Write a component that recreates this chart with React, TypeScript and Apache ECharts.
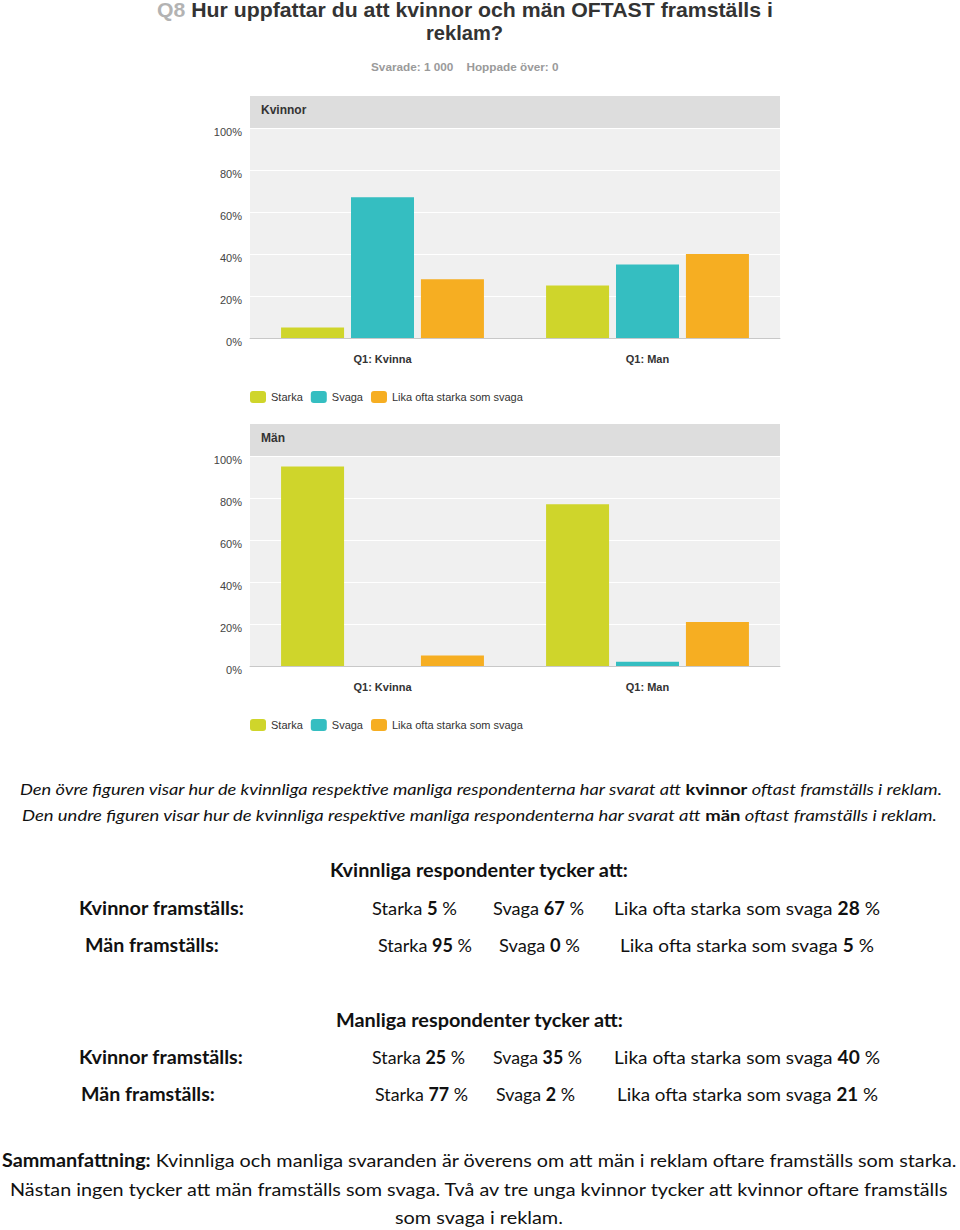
import React, { useEffect, useRef } from 'react';
import * as echarts from 'echarts';

// ---------- data ----------
const categories = ['Q1: Kvinna', 'Q1: Man'];
const seriesNames = ['Starka', 'Svaga', 'Lika ofta starka som svaga'];
const seriesColors = ['#cfd52b', '#35bec1', '#f6ae22'];
const yMin = 0;
const yMax = 100;
const yStep = 20;

// Top chart "Kvinnor" (how women are portrayed), per category [Kvinna, Man]
const kvinnorStarka = [5, 25];
const kvinnorSvaga = [67, 35];
const kvinnorLika = [28, 40];
// Bottom chart "Män" (how men are portrayed)
const manStarka = [95, 77];
const manSvaga = [0, 2];
const manLika = [5, 21];

const titleQ = 'Q8';
const titleLine1 = 'Hur uppfattar du att kvinnor och män OFTAST framställs i';
const titleLine2 = 'reklam?';
const subtitle = 'Svarade: 1 000    Hoppade över: 0';
const panelTitles = ['Kvinnor', 'Män'];

// ---------- fonts ----------
const ARIAL = '"Liberation Sans", Arial, sans-serif';
const BODY = 'Lato, "Open Sans", sans-serif';

type St = { fontSize: number; fontWeight: string; fontStyle: string; fontFamily: string; fill: string };
const st = (fontSize: number, fontWeight: string, fontStyle: string, fontFamily: string, fill: string): St => ({
  fontSize, fontWeight, fontStyle, fontFamily, fill,
});

// Measure with an SVG text node so widths match the SVG renderer.
let svgMeasure: SVGTextElement | null = null;
let svgRoot: SVGSVGElement | null = null;
let canvasCtx: CanvasRenderingContext2D | null = null;
function measure(text: string, s: St) {
  try {
    if (!svgMeasure) {
      const NS = 'http://www.w3.org/2000/svg';
      svgRoot = document.createElementNS(NS, 'svg') as SVGSVGElement;
      svgRoot.setAttribute('width', '2000');
      svgRoot.setAttribute('height', '50');
      svgRoot.style.position = 'absolute';
      svgRoot.style.left = '0px';
      svgRoot.style.top = '0px';
      svgRoot.style.opacity = '0';
      svgRoot.style.pointerEvents = 'none';
      svgMeasure = document.createElementNS(NS, 'text') as SVGTextElement;
      svgMeasure.setAttribute('x', '0');
      svgMeasure.setAttribute('y', '30');
      svgMeasure.style.whiteSpace = 'pre';
      svgMeasure.setAttributeNS('http://www.w3.org/XML/1998/namespace', 'xml:space', 'preserve');
      svgRoot.appendChild(svgMeasure);
      document.body.appendChild(svgRoot);
    }
    const el = svgMeasure!;
    el.style.fontFamily = s.fontFamily;
    el.style.fontSize = s.fontSize + 'px';
    el.style.fontWeight = s.fontWeight;
    el.style.fontStyle = s.fontStyle;
    el.textContent = text;
    const w = el.getComputedTextLength();
    if (w > 0) return w;
  } catch (e) {
    // fall through
  }
  if (!canvasCtx) canvasCtx = document.createElement('canvas').getContext('2d');
  canvasCtx!.font = `${s.fontStyle} ${s.fontWeight} ${s.fontSize}px ${s.fontFamily}`;
  return canvasCtx!.measureText(text).width;
}
function removeMeasurer() {
  if (svgRoot && svgRoot.parentNode) svgRoot.parentNode.removeChild(svgRoot);
  svgRoot = null;
  svgMeasure = null;
}

// Lays out a line of styled segments so that it spans `target` px from `left`.
function fitLine(
  segs: [string, string][],
  styles: Record<string, St>,
  left: number,
  y: number,
  target: number
) {
  const widths = segs.map(([t, k]) => measure(t, styles[k]));
  const total = widths.reduce((a, b) => a + b, 0);
  const sx = total > 0 ? target / total : 1;
  let cursor = left;
  return segs.map(([t, k], i) => {
    const el = {
      type: 'text',
      x: cursor,
      y,
      scaleX: sx,
      silent: true,
      style: {
        text: t,
        ...styles[k],
        align: 'left',
        textAlign: 'left',
        verticalAlign: 'middle',
        textVerticalAlign: 'middle',
      },
    };
    cursor += widths[i] * sx;
    return el;
  });
}

function buildOption() {
  const gridTops = [128, 456];
  const gridLeft = 250;
  const gridW = 530;
  const gridH = 210;
  const headerH = 32;

  const chartData = [
    [kvinnorStarka, kvinnorSvaga, kvinnorLika],
    [manStarka, manSvaga, manLika],
  ];

  const series: any[] = [];
  chartData.forEach((set, gi) => {
    set.forEach((vals, si) => {
      series.push({
        type: 'bar',
        name: seriesNames[si],
        xAxisIndex: gi,
        yAxisIndex: gi,
        data: vals,
        barWidth: 63,
        barGap: '11%',
        itemStyle: { color: seriesColors[si] },
        emphasis: { disabled: true },
      });
    });
  });

  const graphic: any[] = [];

  // Title
  const titleSt = {
    q: st(20, 'bold', 'normal', ARIAL, '#b3b3b3'),
    t: st(20, 'bold', 'normal', ARIAL, '#333333'),
    s: st(11, 'bold', 'normal', ARIAL, '#9a9a9a'),
  };
  graphic.push(...fitLine([[titleQ + ' ', 'q'], [titleLine1, 't']], titleSt, 157, 10, 616));
  graphic.push(...fitLine([[titleLine2, 't']], titleSt, 426, 33, 77));
  graphic.push(...fitLine([[subtitle, 's']], titleSt, 371, 67, 188));

  // Panel headers
  gridTops.forEach((top, i) => {
    graphic.push({
      type: 'rect',
      silent: true,
      shape: { x: gridLeft, y: top - headerH, width: gridW, height: headerH },
      style: { fill: '#dddddd' },
    });
    graphic.push({
      type: 'text',
      silent: true,
      x: 261,
      y: top - headerH / 2 - 2,
      style: {
        text: panelTitles[i],
        fontFamily: ARIAL,
        fontSize: 12,
        fontWeight: 'bold',
        fill: '#333333',
        align: 'left',
        textAlign: 'left',
        verticalAlign: 'middle',
        textVerticalAlign: 'middle',
      },
    });
  });

  // Body texts
  const itSt = {
    i: st(16, 'normal', 'italic', BODY, '#111111'),
    b: st(16, 'bold', 'normal', BODY, '#111111'),
  };
  graphic.push(
    ...fitLine(
      [
        ['Den övre figuren visar hur de kvinnliga respektive manliga respondenterna har svarat att ', 'i'],
        ['kvinnor', 'b'],
        [' oftast framställs i reklam.', 'i'],
      ],
      itSt, 20, 789, 922
    )
  );
  graphic.push(
    ...fitLine(
      [
        ['Den undre figuren visar hur de kvinnliga respektive manliga respondenterna har svarat att ', 'i'],
        ['män', 'b'],
        [' oftast framställs i reklam.', 'i'],
      ],
      itSt, 22, 815, 915
    )
  );

  const tSt = {
    n: st(18, 'normal', 'normal', BODY, '#111111'),
    b: st(18, 'bold', 'normal', BODY, '#111111'),
  };
  graphic.push(...fitLine([['Kvinnliga respondenter tycker att:', 'b']], tSt, 330, 870, 298));
  graphic.push(...fitLine([['Manliga respondenter tycker att:', 'b']], tSt, 336, 1020, 287));

  const cell = (label: string, v: number) =>
    [
      [label + ' ', 'n'],
      [String(v), 'b'],
      [' %', 'n'],
    ] as [string, string][];

  type Row = { y: number; label: string; lab: [number, number]; vals: number[]; cells: [number, number][] };
  const rows: Row[] = [
    {
      y: 908, label: 'Kvinnor framställs:', lab: [79, 244],
      vals: [kvinnorStarka[0], kvinnorSvaga[0], kvinnorLika[0]],
      cells: [[372, 457], [493, 584], [614, 880]],
    },
    {
      y: 945, label: 'Män framställs:', lab: [85, 219],
      vals: [manStarka[0], manSvaga[0], manLika[0]],
      cells: [[378, 472], [499, 580], [620, 874]],
    },
    {
      y: 1057, label: 'Kvinnor framställs:', lab: [79, 243],
      vals: [kvinnorStarka[1], kvinnorSvaga[1], kvinnorLika[1]],
      cells: [[372, 465], [493, 582], [614, 880]],
    },
    {
      y: 1094, label: 'Män framställs:', lab: [81, 215],
      vals: [manStarka[1], manSvaga[1], manLika[1]],
      cells: [[375, 468], [496, 575], [617, 878]],
    },
  ];
  rows.forEach((r) => {
    graphic.push(...fitLine([[r.label, 'b']], tSt, r.lab[0], r.y, r.lab[1] - r.lab[0]));
    r.vals.forEach((v, k) => {
      graphic.push(...fitLine(cell(seriesNames[k], v), tSt, r.cells[k][0], r.y, r.cells[k][1] - r.cells[k][0]));
    });
  });

  graphic.push(
    ...fitLine(
      [
        ['Sammanfattning:', 'b'],
        [' Kvinnliga och manliga svaranden är överens om att män i reklam oftare framställs som starka.', 'n'],
      ],
      tSt, 2, 1160, 955
    )
  );
  graphic.push(
    ...fitLine(
      [['Nästan ingen tycker att män framställs som svaga. Två av tre unga kvinnor tycker att kvinnor oftare framställs', 'n']],
      tSt, 10, 1189, 938
    )
  );
  graphic.push(...fitLine([['som svaga i reklam.', 'n']], tSt, 395, 1217, 168));

  removeMeasurer();

  const legendBase = {
    left: gridLeft,
    orient: 'horizontal',
    itemWidth: 16,
    itemHeight: 12,
    itemGap: 8,
    icon: 'roundRect',
    padding: 0,
    selectedMode: false,
    data: seriesNames,
    textStyle: { fontFamily: ARIAL, fontSize: 11, color: '#333333', padding: [0, 0, 0, 0] },
  };

  return {
    animation: false,
    backgroundColor: '#ffffff',
    grid: gridTops.map((top) => ({
      left: gridLeft,
      top,
      width: gridW,
      height: gridH,
      show: true,
      backgroundColor: '#f0f0f0',
      borderWidth: 0,
    })),
    xAxis: gridTops.map((_, i) => ({
      type: 'category',
      gridIndex: i,
      data: categories,
      axisLine: { show: true, lineStyle: { color: '#c8c8c8', width: 1 } },
      axisTick: { show: false },
      splitLine: { show: false },
      axisLabel: { fontFamily: ARIAL, fontSize: 11, fontWeight: 'bold', color: '#333333', margin: 15 },
    })),
    yAxis: gridTops.map((_, i) => ({
      type: 'value',
      gridIndex: i,
      min: yMin,
      max: yMax,
      interval: yStep,
      axisLine: { show: false },
      axisTick: { show: false },
      splitLine: { show: true, lineStyle: { color: '#ffffff', width: 1 } },
      axisLabel: {
        formatter: '{value}%',
        fontFamily: ARIAL,
        fontSize: 11,
        color: '#444444',
        margin: 8,
        verticalAlign: 'top',
        lineHeight: 8,
      },
    })),
    legend: [
      { ...legendBase, top: 391 },
      { ...legendBase, top: 719 },
    ],
    series,
    graphic,
  };
}

export default function App() {
  const ref = useRef<HTMLDivElement>(null);
  useEffect(() => {
    if (!ref.current) return;
    const chart = echarts.init(ref.current, null, { renderer: 'svg' });
    chart.setOption(buildOption() as any);
    return () => {
      chart.dispose();
      removeMeasurer();
    };
  }, []);
  return (
    <div
      ref={ref}
      style={{ position: 'absolute', left: 0, top: 0, width: 960, height: 1230, background: '#ffffff' }}
    />
  );
}
